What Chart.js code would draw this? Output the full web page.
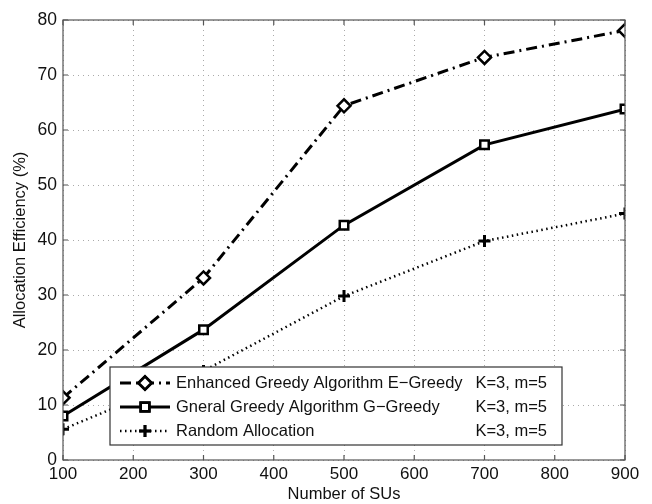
<!DOCTYPE html>
<html>
<head>
<meta charset="utf-8">
<script src="https://cdn.jsdelivr.net/npm/chart.js@4"></script>
<style>
  html, body { margin: 0; padding: 0; background: #fff; }
  #wrap { width: 652px; height: 504px; }
</style>
</head>
<body>
<div id="wrap"><canvas id="chart" width="652" height="504"></canvas></div>
<script>
// values
const numSUs = [100, 300, 500, 700, 900];
const eGreedy = [11.3, 33.1, 64.4, 73.2, 78.1];
const gGreedy = [8.0, 23.7, 42.7, 57.3, 63.8];
const randomAlloc = [5.6, 16.2, 29.8, 39.8, 44.8];

const seriesNames = [
  "Enhanced Greedy Algorithm E\u2212Greedy",
  "Gneral Greedy Algorithm G\u2212Greedy",
  "Random Allocation",
];
const seriesParams = ["K=3, m=5", "K=3, m=5", "K=3, m=5"];

const xTitle = "Number of SUs";
const yTitle = "Allocation Efficiency (%)";

const FONT = "'Liberation Sans', Arial, Helvetica, sans-serif";
const AXIS = "#555";

const pts = (ys) => numSUs.map((x, i) => ({ x, y: ys[i] }));

// box around the plot + inward ticks on all four sides (matlab look)
const frame = {
  id: "frame",
  afterDatasetsDraw(chart) {
    const { ctx, chartArea: a, scales } = chart;
    ctx.save();
    ctx.strokeStyle = AXIS;
    ctx.lineWidth = 1.2;
    ctx.strokeRect(a.left, a.top, a.right - a.left, a.bottom - a.top);
    const len = 5;
    ctx.beginPath();
    scales.x.ticks.forEach((t) => {
      const px = scales.x.getPixelForValue(t.value);
      ctx.moveTo(px, a.bottom); ctx.lineTo(px, a.bottom - len);
      ctx.moveTo(px, a.top); ctx.lineTo(px, a.top + len);
    });
    scales.y.ticks.forEach((t) => {
      const py = scales.y.getPixelForValue(t.value);
      ctx.moveTo(a.left, py); ctx.lineTo(a.left + len, py);
      ctx.moveTo(a.right, py); ctx.lineTo(a.right - len, py);
    });
    ctx.stroke();
    ctx.restore();
  },
};

// legend box drawn by hand so the "K=3, m=5" column can be right-aligned
const boxLegend = {
  id: "boxLegend",
  afterDraw(chart) {
    const { ctx } = chart;
    const x0 = 110, y0 = 367, w = 452, h = 78;
    ctx.save();
    ctx.fillStyle = "#fff";
    ctx.fillRect(x0, y0, w, h);
    ctx.strokeStyle = "#333";
    ctx.lineWidth = 1.2;
    ctx.strokeRect(x0, y0, w, h);
    const rows = [383, 407, 431];
    chart.data.datasets.forEach((ds, i) => {
      const y = rows[i];
      ctx.strokeStyle = ds.borderColor;
      ctx.lineWidth = ds.borderWidth;
      ctx.setLineDash(ds.borderDash || []);
      ctx.beginPath();
      ctx.moveTo(120, y); ctx.lineTo(170, y);
      ctx.stroke();
      ctx.setLineDash([]);
      Chart.helpers.drawPoint(ctx, {
        pointStyle: ds.pointStyle,
        radius: ds.pointRadius,
        borderWidth: ds.pointBorderWidth,
      }, 145, y);
      // drawPoint only builds the path; fill and stroke it
      ctx.fillStyle = ds.pointBackgroundColor;
      ctx.strokeStyle = ds.pointBorderColor;
      ctx.lineWidth = ds.pointBorderWidth;
      ctx.fill();
      ctx.stroke();
      ctx.fillStyle = "#111";
      ctx.font = "16.5px " + FONT;
      ctx.textBaseline = "middle";
      ctx.textAlign = "left";
      ctx.fillText(seriesNames[i], 176, y);
      ctx.textAlign = "right";
      ctx.fillText(seriesParams[i], 547, y);
    });
    ctx.restore();
  },
};

const common = {
  borderColor: "#000",
  pointBorderColor: "#000",
  pointBackgroundColor: "#fff",
  tension: 0,
};

new Chart(document.getElementById("chart"), {
  type: "line",
  data: {
    datasets: [
      { ...common, label: seriesNames[0], data: pts(eGreedy),
        borderWidth: 3, borderDash: [11, 5, 2, 5],
        pointStyle: "rectRot", pointRadius: 6.5, pointBorderWidth: 2.5 },
      { ...common, label: seriesNames[1], data: pts(gGreedy),
        borderWidth: 3, borderDash: [],
        pointStyle: "rect", pointRadius: 6, pointBorderWidth: 2.5 },
      { ...common, label: seriesNames[2], data: pts(randomAlloc),
        borderWidth: 2.5, borderDash: [1.5, 3.5],
        pointStyle: "cross", pointRadius: 6, pointBorderWidth: 3 },
    ],
  },
  options: {
    responsive: false,
    animation: false,
    layout: { padding: { left: 0, right: 27, top: 20, bottom: 0 } },
    plugins: { legend: { display: false }, tooltip: { enabled: false } },
    scales: {
      x: {
        type: "linear", min: 100, max: 900,
        afterFit: (s) => { s.height = 44; },
        ticks: { stepSize: 100, color: "#111", font: { family: FONT, size: 17 }, padding: 4, maxRotation: 0 },
        grid: { color: "#aaa", lineWidth: 1, drawTicks: false },
        border: { display: false, dash: [1, 4] },
        title: { display: true, text: xTitle, color: "#111", font: { family: FONT, size: 16.5 }, padding: { top: 0, bottom: 0 } },
      },
      y: {
        min: 0, max: 80,
        afterFit: (s) => { s.width = 63; },
        ticks: { stepSize: 10, color: "#111", font: { family: FONT, size: 17.5 }, padding: 6 },
        grid: { color: "#aaa", lineWidth: 1, drawTicks: false },
        border: { display: false, dash: [1, 4] },
        title: { display: true, text: yTitle, color: "#111", font: { family: FONT, size: 16.5 }, padding: { top: 11, bottom: 2 } },
      },
    },
  },
  plugins: [frame, boxLegend],
});
</script>
</body>
</html>
